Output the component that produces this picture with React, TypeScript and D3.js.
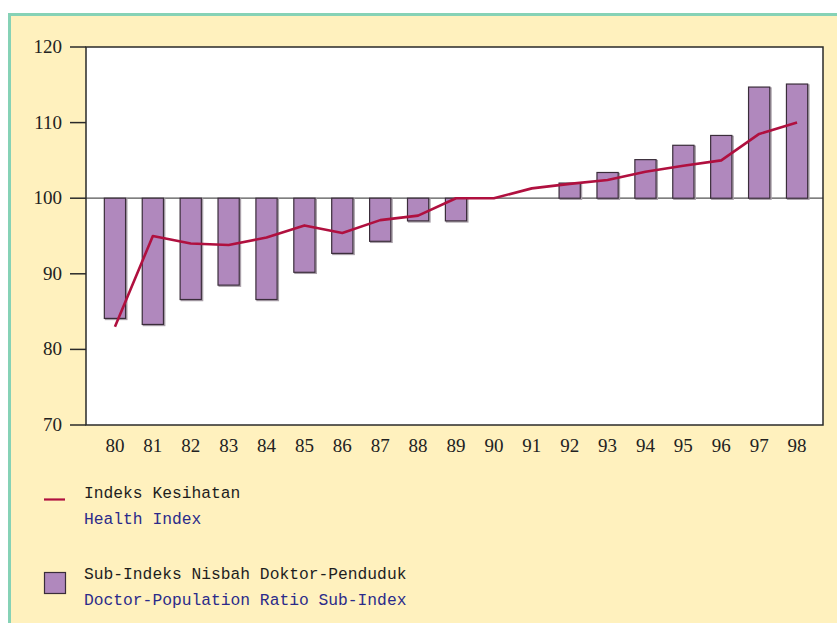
import React from "react";
import * as d3 from "d3";

const years = ["80","81","82","83","84","85","86","87","88","89","90","91","92","93","94","95","96","97","98"];
const doctorRatio = [84.1, 83.3, 86.6, 88.5, 86.6, 90.2, 92.7, 94.3, 97.0, 97.0, 100, 100, 102.0, 103.4, 105.1, 107.0, 108.3, 114.7, 115.1];
const healthIndex = [83.0, 95.0, 94.0, 93.8, 94.8, 96.4, 95.4, 97.1, 97.7, 100, 100, 101.3, 101.9, 102.4, 103.5, 104.3, 105.0, 108.5, 110.0];
const yTicks = [70, 80, 90, 100, 110, 120];
const legendLine = ["Indeks Kesihatan", "Health Index"];
const legendBar = ["Sub-Indeks Nisbah Doktor-Penduduk", "Doctor-Population Ratio Sub-Index"];

const W = 837, H = 623;
const plot = { left: 86, top: 47, right: 823, bottom: 425 };

export default function App() {
  const x = d3.scaleBand<string>().domain(years).range([96, 816]).paddingInner(0.44).paddingOuter(0.22);
  const y = d3.scaleLinear().domain([70, 120]).range([plot.bottom, plot.top]);
  const cx = (d: string) => (x(d) as number) + x.bandwidth() / 2;
  const line = d3.line<number>().x((_, i) => cx(years[i])).y((v) => y(v));
  const serif = "'Liberation Serif', 'Times New Roman', serif";
  const mono = "'Liberation Mono', 'DejaVu Sans Mono', monospace";
  return (
    <svg width={W} height={H} style={{ position: "absolute", left: 0, top: 0, overflow: "hidden" }}>
      <rect x={0} y={0} width={W} height={H} fill="#ffffff" />
      <rect x={9.5} y={14.5} width={900} height={700} fill="#fff1be" stroke="#86d2b6" strokeWidth={3} />
      <rect x={plot.left} y={plot.top} width={plot.right - plot.left} height={plot.bottom - plot.top} fill="#ffffff" />
      {/* baseline at 100 */}
      <line x1={plot.left} x2={plot.right} y1={y(100)} y2={y(100)} stroke="#555" strokeWidth={1.2} />
      {years.map((d, i) => {
        const v = doctorRatio[i];
        if (Math.abs(v - 100) < 0.05) return null;
        const y0 = y(Math.max(v, 100));
        const y1 = y(Math.min(v, 100));
        return (
          <g key={d}>
            <rect x={(x(d) as number) + 1.2} y={y0 + 1} width={x.bandwidth()} height={y1 - y0} fill="none" stroke="#a9a0a9" strokeWidth={1.5} />
            <rect x={x(d) as number} y={y0} width={x.bandwidth()} height={y1 - y0} fill="#b088bd" stroke="#3a2d3a" strokeWidth={1.2} />
          </g>
        );
      })}
      <path d={line(healthIndex) || ""} fill="none" stroke="#b0103f" strokeWidth={2.6} strokeLinejoin="round" />
      {/* plot frame */}
      <rect x={plot.left} y={plot.top} width={plot.right - plot.left} height={plot.bottom - plot.top} fill="none" stroke="#2a2a2a" strokeWidth={1.5} />
      {yTicks.map((t) => (
        <g key={t}>
          <line x1={70} x2={plot.left} y1={y(t)} y2={y(t)} stroke="#2a2a2a" strokeWidth={1.5} />
          <text x={62} y={y(t) + 6} textAnchor="end" fontFamily={serif} fontSize={19} fill="#222">{t}</text>
        </g>
      ))}
      {years.map((d) => (
        <text key={d} x={cx(d)} y={452} textAnchor="middle" fontFamily={serif} fontSize={19} fill="#222">{d}</text>
      ))}
      {/* legend */}
      <line x1={44} x2={65} y1={499.5} y2={499.5} stroke="#b0103f" strokeWidth={2.2} />
      <text x={84} y={498} fontFamily={mono} fontSize={16.3} fill="#1e1e1e">{legendLine[0]}</text>
      <text x={84} y={524} fontFamily={mono} fontSize={16.3} fill="#2b2b8a">{legendLine[1]}</text>
      <rect x={44.5} y={572.5} width={21} height={21} fill="#b088bd" stroke="#3a2d3a" strokeWidth={1.2} />
      <text x={84} y={579} fontFamily={mono} fontSize={16.3} fill="#1e1e1e">{legendBar[0]}</text>
      <text x={84} y={605} fontFamily={mono} fontSize={16.3} fill="#2b2b8a">{legendBar[1]}</text>
    </svg>
  );
}
